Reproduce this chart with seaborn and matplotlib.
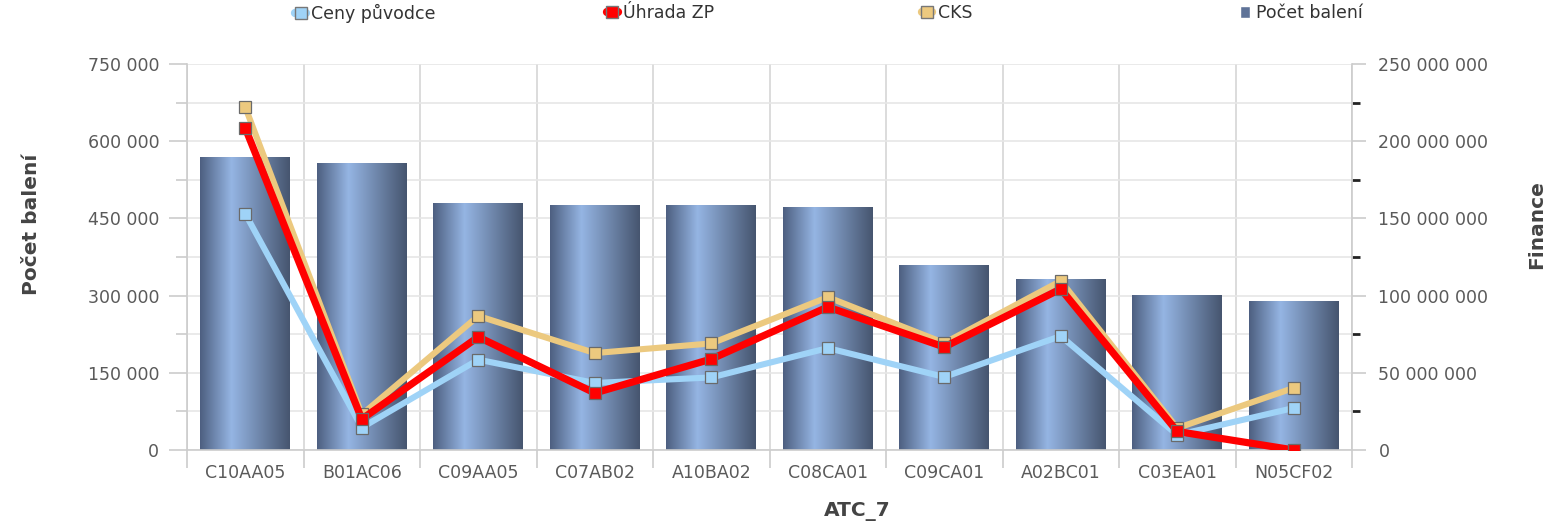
import numpy as np
import pandas as pd
import matplotlib
matplotlib.use('Agg')
import matplotlib.pyplot as plt
import seaborn as sns
from matplotlib.colors import LinearSegmentedColormap
from matplotlib.ticker import MultipleLocator, FuncFormatter
from matplotlib.lines import Line2D
from matplotlib.patches import Patch

# data
categories = ['C10AA05', 'B01AC06', 'C09AA05', 'C07AB02', 'A10BA02',
              'C08CA01', 'C09CA01', 'A02BC01', 'C03EA01', 'N05CF02']
pocet_baleni = [570000, 558000, 480000, 476000, 476000,
                472000, 360000, 332000, 301000, 290000]
ceny_puvodce = [153e6, 14.5e6, 58.5e6, 43.4e6, 47e6,
                66e6, 47.3e6, 73.8e6, 9.7e6, 27.2e6]
uhrada_zp = [208.5e6, 20e6, 73.2e6, 36.9e6, 58.9e6,
             92.6e6, 66.7e6, 104.3e6, 12e6, 0]
cks = [222e6, 23e6, 86.8e6, 62.8e6, 69e6,
       99e6, 69.3e6, 109.5e6, 14.2e6, 40.2e6]

sns.set_theme(style='white')
plt.rcParams['font.family'] = ['DejaVu Sans']

txt = '#5a5a5a'
grid_c = '#e6e6e6'
axis_c = '#cccccc'

def space_fmt(v, pos):
    return f'{int(round(v)):,}'.replace(',', ' ')

fig = plt.figure(figsize=(15.51, 5.26), dpi=100)
ax = fig.add_axes([0.1206, 0.1445, 0.7511, 0.7338])

df = pd.DataFrame({'ATC_7': categories, 'Počet balení': pocet_baleni})
sns.barplot(data=df, x='ATC_7', y='Počet balení', ax=ax, color='#5f7398',
            width=0.77, zorder=2, linewidth=0)

# horizontal gradient fill on each bar
cmap = LinearSegmentedColormap.from_list(
    'bar', [(0, '#4d5f80'), (0.35, '#95b5e3'), (1, '#46556f')])
grad = np.linspace(0, 1, 256).reshape(1, -1)
for p in list(ax.patches):
    x0, y0 = p.get_x(), p.get_y()
    w, h = p.get_width(), p.get_height()
    im = ax.imshow(grad, extent=[x0, x0 + w, y0, y0 + h], aspect='auto',
                   cmap=cmap, zorder=2.1)
    im.set_clip_path(p)

ax.set_xlim(-0.5, len(categories) - 0.5)
ax.set_ylim(0, 750000)
ax.yaxis.set_major_locator(MultipleLocator(150000))
ax.yaxis.set_minor_locator(MultipleLocator(75000))
ax.yaxis.set_major_formatter(FuncFormatter(space_fmt))
ax.set_xticks(np.arange(-0.5, len(categories), 1), minor=True)
ax.set_axisbelow(True)
ax.yaxis.grid(True, which='both', color=grid_c, lw=1.2)
ax.xaxis.grid(True, which='minor', color='#d5d5d5', lw=1.2)
ax.xaxis.grid(False, which='major')

ax.tick_params(axis='y', which='major', length=13, width=1.2, color=axis_c,
               labelsize=12.5, labelcolor=txt, pad=7)
ax.tick_params(axis='y', which='minor', length=8, width=1.2, color=axis_c)
ax.tick_params(axis='x', which='major', length=0, labelsize=12.5,
               labelcolor=txt, pad=10)
ax.tick_params(axis='x', which='minor', length=13, width=1.2, color=axis_c)
ax.tick_params(left=True, bottom=True, which='both')

for s in ['top', 'right']:
    ax.spines[s].set_visible(False)
for s in ['left', 'bottom']:
    ax.spines[s].set_color(axis_c)
    ax.spines[s].set_linewidth(1.2)

ax.set_ylabel('Počet balení', fontsize=14.5, fontweight='bold', color='#444444')
ax.yaxis.set_label_coords(-0.125, 0.585)
ax.set_xlabel('ATC_7', fontsize=14.5, fontweight='bold', color='#444444')
ax.xaxis.set_label_coords(0.575, -0.135)

# finance lines on the right axis
ax2 = ax.twinx()
series = [('CKS', cks, '#ecc97f', 4.4),
          ('Ceny původce', ceny_puvodce, '#9fd3f7', 4.4),
          ('Úhrada ZP', uhrada_zp, '#ff0000', 5.2)]
for name, vals, col, lw in series:
    sns.pointplot(x=categories, y=vals, ax=ax2, color=col, markers='s',
                  linestyles='-', errorbar=None, linewidth=lw,
                  markersize=8, markerfacecolor=col,
                  markeredgecolor='#6a6a6a', markeredgewidth=0.9)

ax2.set_xlim(-0.5, len(categories) - 0.5)
ax2.set_ylim(0, 250e6)
ax2.yaxis.set_major_locator(MultipleLocator(50e6))
ax2.yaxis.set_minor_locator(MultipleLocator(25e6))
ax2.yaxis.set_major_formatter(FuncFormatter(space_fmt))
ax2.tick_params(axis='y', which='major', length=10, width=1.2, color=axis_c,
                labelsize=12.5, labelcolor=txt, pad=9, right=True)
ax2.tick_params(axis='y', which='minor', length=6, width=2, color='#222222',
                right=True)
for s in ['top', 'left', 'bottom']:
    ax2.spines[s].set_visible(False)
ax2.spines['right'].set_color(axis_c)
ax2.spines['right'].set_linewidth(1.2)
ax2.grid(False)
ax2.set_ylabel('Finance', fontsize=14.5, fontweight='bold', color='#444444',
               rotation=90)
ax2.yaxis.set_label_coords(1.15, 0.585)

# legend, four entries spread along the top
legend_items = [
    (Line2D([], [], color='#9fd3f7', lw=6, marker='s', markersize=8,
            markerfacecolor='#9fd3f7', markeredgecolor='#777777'),
     'Ceny původce', 0.186),
    (Line2D([], [], color='#ff0000', lw=6, marker='s', markersize=8,
            markerfacecolor='#ff0000', markeredgecolor='#777777'),
     'Úhrada ZP', 0.387),
    (Line2D([], [], color='#ecc97f', lw=6, marker='s', markersize=8,
            markerfacecolor='#ecc97f', markeredgecolor='#777777'),
     'CKS', 0.590),
    (Patch(facecolor='#5f7398'), 'Počet balení', 0.795),
]
for h, lab, xpos in legend_items:
    fig.legend([h], [lab], loc='upper left', bbox_to_anchor=(xpos, 1.005),
               frameon=False, fontsize=12.5, handlelength=0.6,
               handletextpad=0.3, borderaxespad=0, labelcolor='#333333')

fig.savefig('out.png', dpi=100)
